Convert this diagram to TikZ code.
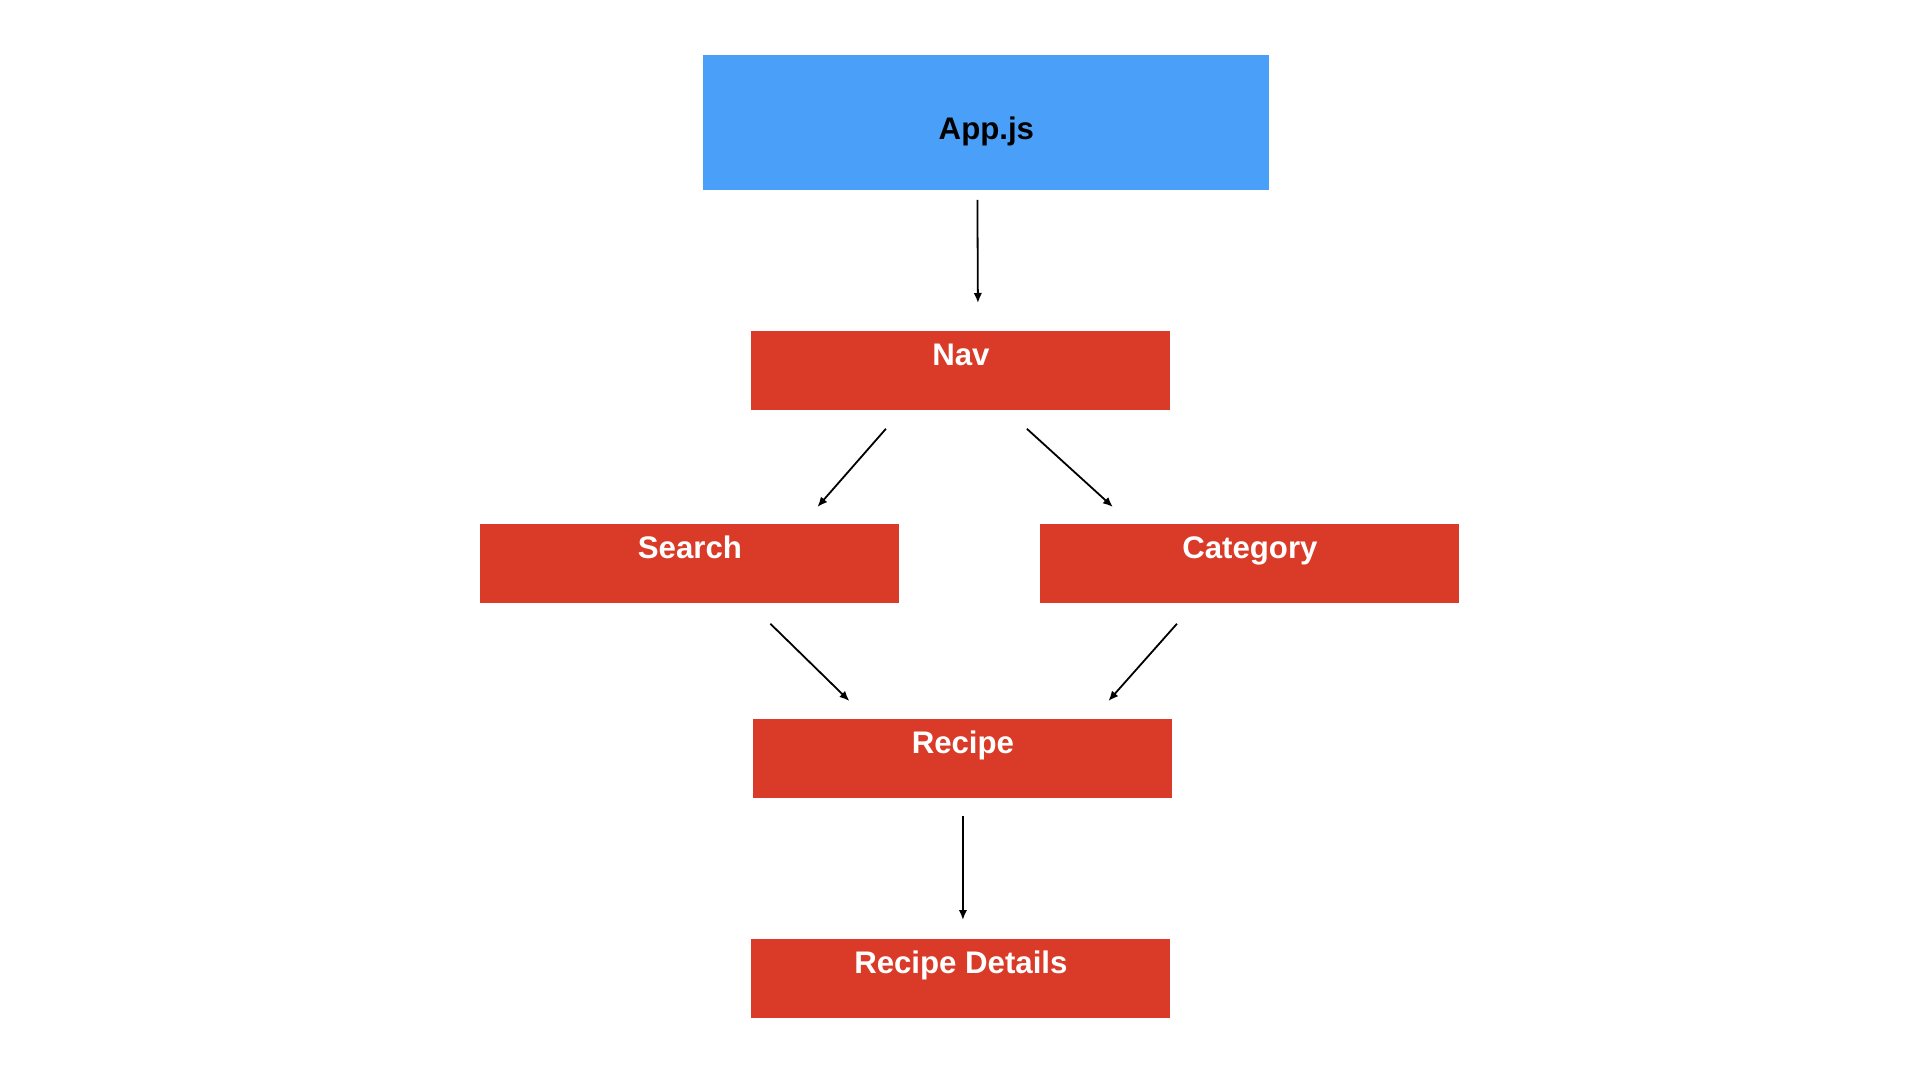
\documentclass[tikz,border=0pt]{standalone}
\usepackage{fontspec}
\setmainfont{Liberation Sans}
\usetikzlibrary{arrows.meta}
\definecolor{appblue}{RGB}{74,160,249}
\definecolor{compred}{RGB}{218,59,40}
\begin{document}
\begin{tikzpicture}[x=0.5pt,y=-0.5pt,
  box/.style={rectangle, inner sep=0pt, anchor=north west, draw=none,
    font=\fontsize{15.6pt}{18pt}\selectfont\bfseries, align=center},
  redbox/.style={box, fill=compred, text=white, minimum width=209.5pt,
    text height=17pt, text depth=22.5pt},
  arr/.style={-{Latex[length=5pt,width=4.2pt]}, line width=0.9pt, black}]
\useasboundingbox[fill=white] (0,0) rectangle (1920,1080);
\node[box, fill=appblue, text=black, minimum width=283pt, text height=42pt, text depth=25.5pt] (app) at (703,55) {App.js};
\node[redbox] (nav) at (751,331) {Nav};
\node[redbox] (search) at (480,524) {Search};
\node[redbox] (category) at (1040,524) {Category};
\node[redbox] (recipe) at (753,719) {Recipe};
\node[redbox] (details) at (751,939) {Recipe Details};
\draw[arr] ([shift={(-9,9)}]app.south) -- ([shift={(17,-28)}]nav.north);
\draw[arr] ([shift={(-75,18)}]nav.south) -- ([shift={(127.5,-17)}]search.north);
\draw[arr] ([shift={(66,18)}]nav.south) -- ([shift={(-137,-17)}]category.north);
\draw[arr] ([shift={(80.5,20)}]search.south) -- ([shift={(-113.5,-18)}]recipe.north);
\draw[arr] ([shift={(-73,20)}]category.south) -- ([shift={(145.5,-18)}]recipe.north);
\draw[arr] ([shift={(0,17)}]recipe.south) -- ([shift={(2,-19)}]details.north);
\end{tikzpicture}
\end{document}
